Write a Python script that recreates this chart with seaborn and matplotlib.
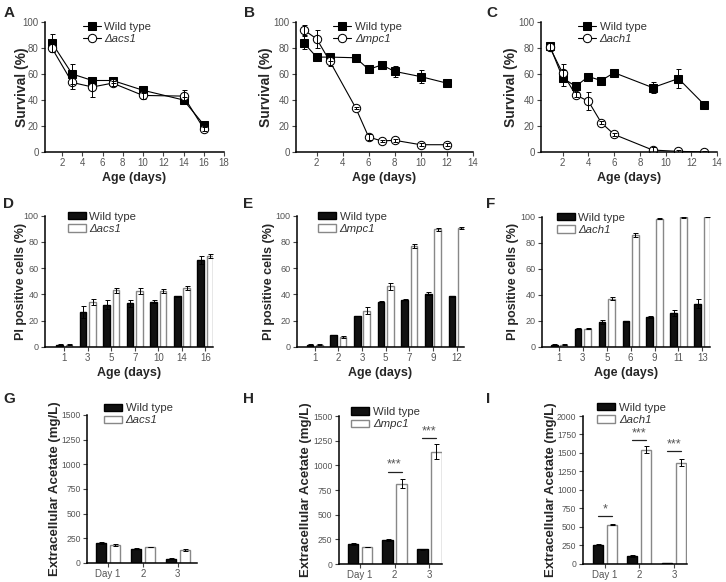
import matplotlib
matplotlib.use('Agg')
import matplotlib.pyplot as plt
import seaborn as sns
import pandas as pd
import numpy as np

sns.set_style("ticks")
plt.rcParams['font.family'] = ['Liberation Sans', 'DejaVu Sans']

# ---- data: survival (A-C) ----
days_A = [1, 3, 5, 7, 10, 14, 16]
wt_A = [84, 60, 55, 55, 47.5, 40, 21]
wt_A_err = [7, 8, 2, 2, 2, 2, 2]
acs1_A = [80, 53.5, 50, 53, 43.5, 43, 18]
acs1_A_err = [3, 5, 8, 2, 3, 5, 2]

days_B = [1, 2, 3, 5, 6, 7, 8, 10, 12]
wt_B = [84, 73, 73, 72.5, 63.5, 67, 62, 58, 53]
wt_B_err = [5, 3, 3, 2, 1, 1, 4, 5, 3]
mpc1_B = [94, 87, 70, 34, 11.5, 8.5, 9, 5.6, 5.6]
mpc1_B_err = [4, 7, 4, 1, 2, 1, 1, 1, 1]

days_C = [1, 2, 3, 4, 5, 6, 9, 11, 13]
wt_C = [81.5, 57, 50.5, 58, 55, 61, 49.5, 56.5, 36.5]
wt_C_err = [3, 6, 3, 1, 3, 1, 4, 7, 1]
ach1_C = [80.5, 60.5, 44, 39, 22.5, 13.5, 1.5, 0.5, 0]
ach1_C_err = [3, 7, 2, 7, 1, 1, 2, 1, 1]

# ---- data: PI positive cells (D-F) ----
days_D = ['1', '3', '5', '7', '10', '14', '16']
wt_D = [1.5, 26.5, 32, 33, 34.5, 38.5, 66.5]
wt_D_err = [0.3, 4.5, 3.5, 3, 1.5, 0.5, 3]
acs1_D = [1.5, 34, 43, 42.5, 42.5, 45, 69]
acs1_D_err = [0.3, 2.5, 2, 2, 1.5, 1.5, 1.5]

days_E = ['1', '2', '3', '5', '7', '9', '12']
wt_E = [1.5, 9, 23.5, 34.5, 36, 40.5, 38.5]
wt_E_err = [0.2, 0.3, 0.3, 0.5, 0.3, 1, 0.5]
mpc1_E = [1.5, 7.5, 27.5, 46, 77, 89.5, 90.5]
mpc1_E_err = [0.2, 0.5, 2.5, 2.5, 1.5, 0.8, 0.8]

days_F = ['1', '3', '5', '6', '9', '11', '13']
wt_F = [1.5, 14, 19, 19.5, 23, 26, 33]
wt_F_err = [0.3, 0.3, 1.5, 0.5, 0.8, 2, 3.5]
ach1_F = [1.5, 14, 37, 86, 98.5, 99.5, 100]
ach1_F_err = [0.3, 0.3, 1.2, 1.5, 0.3, 0.3, 0.3]

# ---- data: extracellular acetate (G-I) ----
day_labels = ['Day 1', '2', '3']
wt_G = [200, 145, 45]
wt_G_err = [8, 6, 5]
acs1_G = [182, 162, 135]
acs1_G_err = [8, 3, 10]

wt_H = [205, 243, 148]
wt_H_err = [8, 6, 5]
mpc1_H = [172, 815, 1140]
mpc1_H_err = [3, 45, 75]
sig_H = [None, '***', '***']
sig_H_y = [None, 936, 1274]

wt_I = [255, 104, 10]
wt_I_err = [8, 8, 2]
ach1_I = [530, 1545, 1370]
ach1_I_err = [3, 50, 45]
sig_I = ['*', '***', '***']
sig_I_y = [645, 1670, 1528]

W, H = 726, 582
fig = plt.figure(figsize=(W / 100, H / 100), dpi=100)

TICK_C = '#555555'
TXT_C = '#333333'
WHITE_EDGE = '#888888'


def add_ax(l, t, r, b):
    return fig.add_axes([l / W, 1 - b / H, (r - l) / W, (b - t) / H])


def style_ax(ax, xsize=7, ysize=7):
    sns.despine(ax=ax)
    for s in ['left', 'bottom']:
        ax.spines[s].set_linewidth(1.1)
        ax.spines[s].set_color('black')
    ax.tick_params(axis='both', direction='out', length=3, width=0.8,
                   color='#444444', labelcolor=TICK_C, pad=1.5)
    ax.tick_params(axis='x', labelsize=xsize)
    ax.tick_params(axis='y', labelsize=ysize)


def legend(ax, x, y, bars=False):
    kw = dict(loc='upper left', bbox_to_anchor=(x, y), frameon=False,
              fontsize=8.2, borderpad=0, borderaxespad=0, labelspacing=0.2,
              handletextpad=0.3, labelcolor=TXT_C)
    if bars:
        kw.update(handlelength=1.6, handleheight=0.6)
    else:
        kw.update(handlelength=1.6)
    leg = ax.legend(**kw)
    leg.get_texts()[1].set_style('italic')
    if bars:
        h = leg.legend_handles
        h[0].set_edgecolor('black')
        h[1].set_edgecolor(WHITE_EDGE)
        h[1].set_linewidth(1)


def survival(ax, days, wt, wt_err, mut, mut_err, mutname, xmin, xmax, legx, ylab_x):
    sns.lineplot(x=days, y=wt, ax=ax, color='black', marker='s', markersize=5.5,
                 markeredgecolor='black', linewidth=0.8, label='Wild type')
    sns.lineplot(x=days, y=mut, ax=ax, color='black', marker='o', markersize=6,
                 markerfacecolor='white', markeredgecolor='black', linewidth=0.8,
                 label='\u0394' + mutname)
    ax.errorbar(days, wt, yerr=wt_err, fmt='none', ecolor='black',
                elinewidth=0.7, capsize=1.8, capthick=0.7, zorder=4)
    ax.errorbar(days, mut, yerr=mut_err, fmt='none', ecolor='black',
                elinewidth=0.7, capsize=1.8, capthick=0.7, zorder=4)
    ax.set_xlim(xmin, xmax)
    ax.set_ylim(0, 100)
    ax.set_xticks(np.arange(2, xmax + 1, 2))
    ax.set_yticks(range(0, 101, 20))
    ax.set_xlabel('Age (days)', fontsize=9, fontweight='bold', labelpad=3)
    ax.set_ylabel('Survival (%)', fontsize=10, fontweight='bold')
    ax.yaxis.set_label_coords(ylab_x, 0.5)
    style_ax(ax, 7, 7)
    legend(ax, legx, 1.0)


def bars(ax, cats, wt, wt_err, mut, mut_err, mutname, gap):
    df = pd.DataFrame({'cat': list(cats) * 2,
                       'val': list(wt) + list(mut),
                       'strain': ['Wild type'] * len(cats) + ['\u0394' + mutname] * len(cats)})
    sns.barplot(data=df, x='cat', y='val', hue='strain', ax=ax, errorbar=None,
                palette=['#111111', 'white'], gap=gap, linewidth=1)
    c_wt, c_mut = ax.containers[0], ax.containers[1]
    for p in c_wt:
        p.set_edgecolor('black')
    for p in c_mut:
        p.set_edgecolor(WHITE_EDGE)
    for cont, err, vals in [(c_wt, wt_err, wt), (c_mut, mut_err, mut)]:
        xs = [p.get_x() + p.get_width() / 2 for p in cont]
        ax.errorbar(xs, vals, yerr=err, fmt='none', ecolor='black',
                    elinewidth=0.7, capsize=1.8, capthick=0.7, zorder=4)
    return [p.get_x() + p.get_width() / 2 for p in c_wt], \
           [p.get_x() + p.get_width() / 2 for p in c_mut]


def pi_panel(ax, cats, wt, wt_err, mut, mut_err, mutname, xmin, xmax, legx, ylab_x):
    bars(ax, cats, wt, wt_err, mut, mut_err, mutname, 0.3)
    ax.set_xlim(xmin, xmax)
    ax.set_ylim(0, 100)
    ax.set_yticks(range(0, 101, 20))
    ax.set_xlabel('Age (days)', fontsize=9, fontweight='bold', labelpad=3)
    ax.set_ylabel('PI positive cells (%)', fontsize=9, fontweight='bold')
    ax.yaxis.set_label_coords(ylab_x, 0.5)
    style_ax(ax, 7, 6.5)
    legend(ax, legx, 1.03, bars=True)


def acetate(ax, wt, wt_err, mut, mut_err, mutname, ymax, xmin, xmax, legx, legy,
            ylab_x, sig=None, sig_y=None):
    xw, xm = bars(ax, day_labels, wt, wt_err, mut, mut_err, mutname, 0.27)
    ax.set_xlim(xmin, xmax)
    ax.set_ylim(0, ymax)
    ax.set_yticks(range(0, ymax + 1, 250))
    ax.set_xlabel('')
    ax.set_ylabel('Extracellular Acetate (mg/L)', fontsize=9.5, fontweight='bold')
    ax.yaxis.set_label_coords(ylab_x, 0.5)
    style_ax(ax, 7, 6.2)
    legend(ax, legx, legy, bars=True)
    if sig is not None:
        for i, (s, y) in enumerate(zip(sig, sig_y)):
            if s is None:
                continue
            ax.plot([xw[i], xm[i]], [y, y], color='#222222', lw=0.9)
            ax.text((xw[i] + xm[i]) / 2, y + ymax * 0.005, s, ha='center', va='bottom',
                    fontsize=9, color='#555555')


# Row 1
survival(add_ax(45, 22, 224, 152), days_A, wt_A, wt_A_err, acs1_A, acs1_A_err,
         'acs1', 0.32, 18, 0.21, -0.09)
survival(add_ax(296, 22, 472.7, 152), days_B, wt_B, wt_B_err, mpc1_B, mpc1_B_err,
         'mpc1', 0.41, 14, 0.21, -0.13)
survival(add_ax(541, 22, 717, 152), days_C, wt_C, wt_C_err, ach1_C, ach1_C_err,
         'ach1', 0.31, 14, 0.21, -0.13)

# Row 2
pi_panel(add_ax(45, 215.7, 213, 346.7), days_D, wt_D, wt_D_err, acs1_D, acs1_D_err,
         'acs1', -0.82, 6.32, 0.135, -0.107)
pi_panel(add_ax(297, 215.7, 464, 346.7), days_E, wt_E, wt_E_err, mpc1_E, mpc1_E_err,
         'mpc1', -0.75, 6.31, 0.126, -0.13)
pi_panel(add_ax(542, 216.7, 710, 346.7), days_F, wt_F, wt_F_err, ach1_F, ach1_F_err,
         'ach1', -0.71, 6.32, 0.088, -0.137)

# Row 3
acetate(add_ax(87, 415, 197, 563), wt_G, wt_G_err, acs1_G, acs1_G_err, 'acs1',
        1500, -0.6, 2.55, 0.155, 1.08, -0.236)
acetate(add_ax(338.7, 416, 442, 564), wt_H, wt_H_err, mpc1_H, mpc1_H_err, 'mpc1',
        1500, -0.6, 2.36, 0.12, 1.06, -0.258, sig_H, sig_H_y)
acetate(add_ax(582.7, 416, 686.7, 563.7), wt_I, wt_I_err, ach1_I, ach1_I_err, 'ach1',
        2000, -0.64, 2.37, 0.14, 1.09, -0.247, sig_I, sig_I_y)

# panel letters
letters = [('A', 4, 6), ('B', 244, 6), ('C', 486, 6),
           ('D', 3, 197), ('E', 243, 197), ('F', 486, 197),
           ('G', 3, 392), ('H', 243, 392), ('I', 486, 392)]
for t, x, y in letters:
    fig.text(x / W, 1 - y / H, t, fontsize=11, fontweight='bold', va='top', ha='left')

fig.savefig('out.png', dpi=100)
